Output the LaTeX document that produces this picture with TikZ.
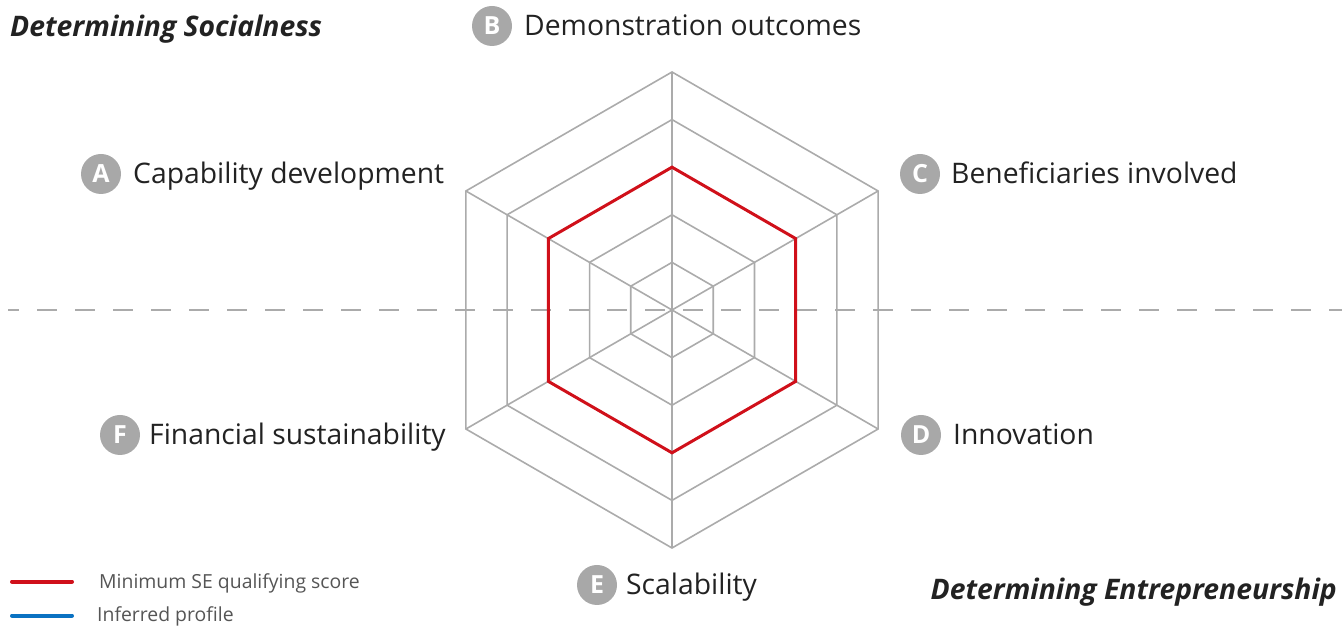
\documentclass[tikz,border=0pt]{standalone}
\usepackage{fontspec}
\setmainfont{Open Sans}
\usetikzlibrary{positioning,calc}
\definecolor{gridgray}{HTML}{ABABAB}
\definecolor{badgegray}{HTML}{A8A8A8}
\definecolor{minred}{HTML}{D0101A}
\definecolor{infblue}{HTML}{0A72C2}
\definecolor{txt}{HTML}{222222}
\definecolor{legtxt}{HTML}{555555}
\tikzset{
  badge/.style={circle,fill=badgegray,text=white,minimum size=40pt,inner sep=0pt,
    font=\fontsize{25}{28}\selectfont\bfseries},
  axislabel/.style={inner sep=0pt,text=txt,font=\fontsize{28.3}{32}\selectfont,anchor=base west},
  sidetitle/.style={inner sep=0pt,text=txt,font=\fontsize{28.3}{32}\selectfont\bfseries\itshape},
  legendtext/.style={inner sep=0pt,text=legtxt,font=\fontsize{19.4}{22}\selectfont,anchor=base west},
}
\begin{document}
\begin{tikzpicture}[x=1pt,y=1pt,line join=miter]
\useasboundingbox (0,0) rectangle (1342,628);
% dividing line
\coordinate (divL) at (8,318);
\coordinate (divR) at (1342,318);
\draw[gridgray,line width=2pt,dash pattern=on 20pt off 18pt,dash phase=9pt] (divL)--(divR);
% radar grid
\coordinate (O) at (672,318);
\foreach \k in {1,...,5}
  \draw[gridgray,line width=1.6pt] ($(O)+(30:47.6*\k)$) \foreach \a in {90,150,...,330}{--($(O)+(\a:47.6*\k)$)} --cycle;
\foreach \a in {30,90,...,330}
  \draw[gridgray,line width=1.6pt] (O)--($(O)+(\a:238)$);
% minimum score
\draw[minred,line width=3pt] ($(O)+(30:142.8)$) \foreach \a in {90,150,...,330}{--($(O)+(\a:142.8)$)} --cycle;
% axis labels
\node[badge] (bA) at (101,454) {A};
\node[axislabel] (lA) at ($(bA.center)+(32,-10)$) {Capability development};
\node[badge] (bB) at (492,602) {B};
\node[axislabel] (lB) at ($(bB.center)+(32,-10)$) {Demonstration outcomes};
\node[badge] (bC) at (920,454) {C};
\node[axislabel] (lC) at ($(bC.center)+(31,-10)$) {Beneficiaries involved};
\node[badge] (bD) at (921,193) {D};
\node[axislabel] (lD) at ($(bD.center)+(32,-10)$) {Innovation};
\node[badge] (bE) at (597,43) {E};
\node[axislabel] (lE) at ($(bE.center)+(29,-10)$) {Scalability};
\node[badge] (bF) at (120,193) {F};
\node[axislabel] (lF) at ($(bF.center)+(29,-10)$) {Financial sustainability};
% titles
\node[sidetitle,anchor=base west] (social) at (10,591) {Determining Socialness};
\node[sidetitle,anchor=base east] (entre) at (1337,28) {Determining Entrepreneurship};
% legend
\coordinate (redL) at (12,46.3); \coordinate (redR) at (72,46.3);
\coordinate (blueL) at (12,12.3); \coordinate (blueR) at (72,12.3);
\draw[minred,line width=4pt,line cap=round] (redL)--(redR);
\draw[infblue,line width=4pt,line cap=round] (blueL)--(blueR);
\node[legendtext] (legred) at (99,39.5) {Minimum SE qualifying score};
\node[legendtext] (legblue) at (97,6) {Inferred profile};
\end{tikzpicture}
\end{document}
